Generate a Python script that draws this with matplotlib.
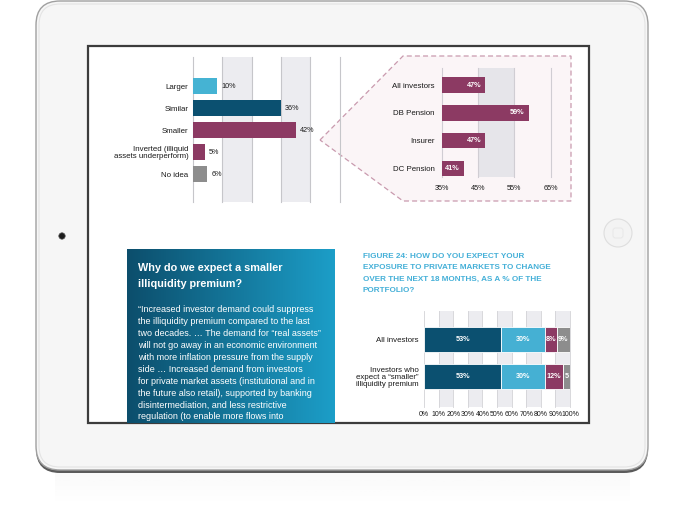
import numpy as np
import matplotlib
matplotlib.use("Agg")
import matplotlib.pyplot as plt
from matplotlib.patches import FancyBboxPatch, Rectangle, Polygon, Circle

plt.rcParams['font.family'] = ['Liberation Sans', 'DejaVu Sans']

W, H = 685, 522

# ---------------- data ----------------
premium_cats = ["Larger", "Similar", "Smaller",
                "Inverted (illiquid\nassets underperform)", "No idea"]
premium_vals = [10, 36, 42, 5, 6]
premium_colors = ["#45b3d3", "#0b5070", "#8c3a63", "#8c3a63", "#8d8d8d"]
premium_grid = [0, 12, 24, 36, 48, 60]

investor_cats = ["All investors", "DB Pension", "Insurer", "DC Pension"]
investor_vals = [47, 59, 47, 41]
investor_ticks = [35, 45, 55, 65]

exposure_cats = ["All investors", "Investors who\nexpect a \u201csmaller\u201d\nilliquidity premium"]
exposure_seg1 = [53, 53]
exposure_seg2 = [30, 30]
exposure_seg3 = [8, 12]
exposure_seg4 = [9, 5]
exposure_colors = ["#0b5070", "#45b0d3", "#8c3a63", "#8d8d8d"]
exposure_ticks = list(range(0, 101, 10))

fig_title_lines = ["FIGURE 24: HOW DO YOU EXPECT YOUR",
                   "EXPOSURE TO PRIVATE MARKETS TO CHANGE",
                   "OVER THE NEXT 18 MONTHS, AS A % OF THE",
                   "PORTFOLIO?"]
box_title_lines = ["Why do we expect a smaller", "illiquidity premium?"]
box_body_lines = [
    "\u201cIncreased investor demand could suppress",
    "the illiquidity premium compared to the last",
    "two decades. \u2026 The demand for \u201creal assets\u201d",
    "will not go away in an economic environment",
    "with more inflation pressure from the supply",
    "side \u2026 Increased demand from investors",
    "for private market assets (institutional and in",
    "the future also retail), supported by banking",
    "disintermediation, and less restrictive",
    "regulation (to enable more flows into",
]

fig = plt.figure(figsize=(W / 100, H / 100), dpi=100)
fig.patch.set_facecolor("white")


def px_axes(x0, y0, x1, y1):
    return fig.add_axes([x0 / W, 1 - y1 / H, (x1 - x0) / W, (y1 - y0) / H])


# ---------------- device frame ----------------
bg = fig.add_axes([0, 0, 1, 1])
bg.set_xlim(0, W)
bg.set_ylim(H, 0)
bg.axis("off")

# soft shadow / reflection under the device
grad = np.linspace(0.10, 0.0, 60) ** 1.2
rgba = np.zeros((60, 1, 4))
rgba[..., :3] = 0.6
rgba[:, 0, 3] = grad
bg.imshow(rgba, extent=[55, 630, 505, 471], aspect="auto", zorder=0, interpolation="bilinear")

bg.add_patch(FancyBboxPatch((36, 3), 612, 470, boxstyle="round,pad=0,rounding_size=24",
                            facecolor="#5a5a5a", edgecolor="none", zorder=1))
bg.add_patch(FancyBboxPatch((36, 1), 612, 469, boxstyle="round,pad=0,rounding_size=24",
                            facecolor="#f6f6f6", edgecolor="#a0a0a0", lw=1.0, zorder=2))
bg.add_patch(FancyBboxPatch((39, 4), 606, 463, boxstyle="round,pad=0,rounding_size=21",
                            facecolor="none", edgecolor="#e4e4e4", lw=0.8, zorder=2))
# screen
bg.add_patch(Rectangle((88, 46), 501, 377, facecolor="white", edgecolor="#3c3c3c",
                       lw=1.6, zorder=3))
# camera & home button
bg.add_patch(Circle((62, 236), 3.2, facecolor="#1c1c1c", edgecolor="#555555", lw=0.5, zorder=3))
bg.add_patch(Circle((618, 233), 14, facecolor="#f3f3f3", edgecolor="#dedede", lw=0.8, zorder=3))
bg.add_patch(FancyBboxPatch((613, 228), 10, 10, boxstyle="round,pad=0,rounding_size=2.5",
                            facecolor="none", edgecolor="#e6e6e6", lw=0.6, zorder=3))

# callout pentagon behind chart 2
bg.add_patch(Polygon([(320, 140), (403, 56), (571, 56), (571, 201), (403, 201)], closed=True,
                     facecolor="#fbf5f7", edgecolor="#c99aae", lw=0.9, ls=(0, (4, 2.5)), zorder=4))

# ---------------- chart 1: expected premium ----------------
ax1 = px_axes(192.7, 57, 339.7, 202)
ax1.set_xlim(premium_grid[0], premium_grid[-1])
ax1.set_ylim(5.26, -1.32)
ax1.axvspan(premium_grid[1], premium_grid[2], color="#ececf0", lw=0, zorder=0)
ax1.axvspan(premium_grid[3], premium_grid[4], color="#ececf0", lw=0, zorder=0)
for g in premium_grid:
    ax1.axvline(g, color="#c6c6ca", lw=0.8, zorder=1, clip_on=False)
ypos = np.arange(len(premium_cats))
ax1.barh(ypos, premium_vals, height=0.71, color=premium_colors, zorder=2)
for i, v in enumerate(premium_vals):
    ax1.annotate(f"{v}%", (v, i), xytext=(3, 0), textcoords="offset points",
                 va="center", ha="left", fontsize=5.2, color="#1a1a1a", zorder=3)
ax1.set_yticks(ypos)
ax1.set_yticklabels(premium_cats, fontsize=5.7, color="#1a1a1a", linespacing=1.0)
ax1.set_xticks([])
ax1.tick_params(axis="y", length=0, pad=3)
for s in ax1.spines.values():
    s.set_visible(False)
ax1.patch.set_alpha(0)

# ---------------- chart 2: by investor type ----------------
ax2 = px_axes(441.7, 68, 550.7, 177)
ax2.set_xlim(investor_ticks[0], investor_ticks[-1])
ax2.set_ylim(3.30, -0.61)
ax2.axvspan(investor_ticks[1], investor_ticks[2], color="#e6e5ea", lw=0, zorder=0)
for g in investor_ticks:
    ax2.axvline(g, color="#d0cdd3", lw=0.8, zorder=1, clip_on=False)
ypos2 = np.arange(len(investor_cats))
ax2.barh(ypos2, investor_vals, height=0.55, color="#8c3a63", zorder=2)
for i, v in enumerate(investor_vals):
    ax2.annotate(f"{v}%", (v, i), xytext=(-3, 0), textcoords="offset points",
                 va="center", ha="right", fontsize=5.2, color="white", fontweight="bold", zorder=3)
ax2.set_yticks(ypos2)
ax2.set_yticklabels(investor_cats, fontsize=5.7, color="#1a1a1a")
ax2.set_xticks(investor_ticks)
ax2.set_xticklabels([f"{t}%" for t in investor_ticks], fontsize=5.2, color="#1a1a1a")
ax2.tick_params(axis="y", length=0, pad=5)
ax2.tick_params(axis="x", length=0, pad=6)
for s in ax2.spines.values():
    s.set_visible(False)
ax2.patch.set_alpha(0)

# ---------------- text box ----------------
axb = px_axes(127.3, 249.3, 335, 423)
axb.set_xlim(127.3, 335)
axb.set_ylim(423, 249.3)
c0 = np.array(matplotlib.colors.to_rgb("#0c4e6c"))
c1 = np.array(matplotlib.colors.to_rgb("#1c9ec8"))
t = np.linspace(0, 1, 200)[None, :, None]
img = c0 * (1 - t) + c1 * t
img = np.repeat(img, 2, axis=0)
axb.imshow(img, extent=[127.3, 335, 423, 249.3], aspect="auto", interpolation="bilinear")
for k, line in enumerate(box_title_lines):
    axb.text(138, 268.3 + 15.5 * k, line, fontsize=7.8, fontweight="bold", color="white",
             va="center", ha="left", clip_on=True)
for k, line in enumerate(box_body_lines):
    axb.text(138, 310 + 11.86 * k, line, fontsize=6.5, color="white",
             va="center", ha="left", clip_on=True)
axb.axis("off")

# ---------------- chart 3: exposure change ----------------
for k, line in enumerate(fig_title_lines):
    bg.text(362.7, 256.7 + 11.1 * k, line, fontsize=5.9, fontweight="bold", color="#45b0d8",
            va="center", ha="left", zorder=5)

ax3 = px_axes(424, 311, 570, 407)
ax3.set_xlim(0, 100)
ax3.set_ylim(1.81, -0.757)
for a in exposure_ticks[1::2]:
    ax3.axvspan(a, a + 10, color="#ececf0", lw=0, zorder=0)
for g in exposure_ticks:
    ax3.axvline(g, color="#d2d2d6", lw=0.6, zorder=1, clip_on=False)
ypos3 = np.arange(len(exposure_cats))
left = np.zeros(len(exposure_cats))
for seg, col in zip([exposure_seg1, exposure_seg2, exposure_seg3, exposure_seg4], exposure_colors):
    seg = np.array(seg)
    ax3.barh(ypos3, seg, left=left, height=0.67, color=col, edgecolor="white", lw=0.6, zorder=2)
    for i, v in enumerate(seg):
        lab = f"{v}%" if v >= 8 else f"{v}"
        ax3.text(left[i] + v / 2, i, lab, ha="center", va="center", fontsize=5.2,
                 color="white", fontweight="bold", zorder=3)
    left = left + seg
ax3.set_yticks(ypos3)
ax3.set_yticklabels(exposure_cats, fontsize=5.7, color="#1a1a1a", linespacing=1.0)
ax3.set_xticks(exposure_ticks)
ax3.set_xticklabels([f"{t}%" for t in exposure_ticks], fontsize=5.0, color="#1a1a1a")
ax3.tick_params(axis="y", length=0, pad=4)
ax3.tick_params(axis="x", length=0, pad=3)
for s in ax3.spines.values():
    s.set_visible(False)
ax3.patch.set_alpha(0)

fig.savefig("out.png", dpi=100, facecolor="white")
